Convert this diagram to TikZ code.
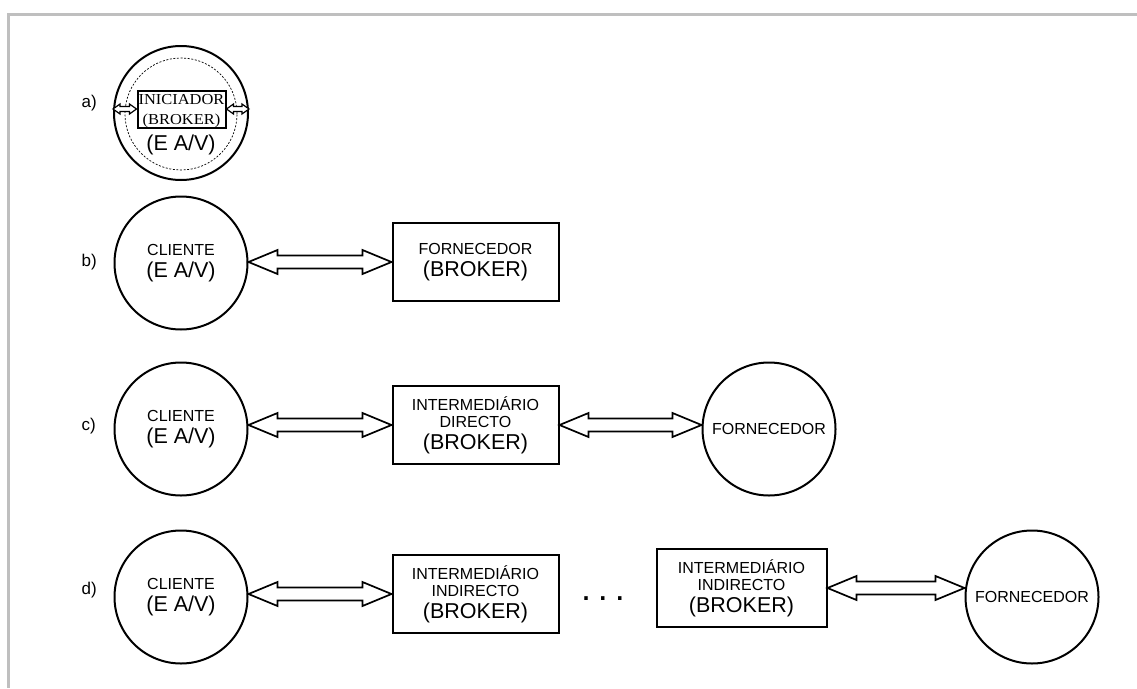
\documentclass[tikz,border=0pt]{standalone}
\usepackage{fontspec}
\setmainfont{Liberation Sans}
\newfontfamily\serifface[FakeStretch=1.08]{Liberation Serif}
\usetikzlibrary{calc}

\newcommand\smallsize{\fontsize{16}{17}\selectfont}
\newcommand\bigsize{\fontsize{21.5}{17}\selectfont}

% Hollow double-headed block arrow running horizontally.
% [#1] extra draw options, #2 left end, #3 right end, #4 node giving the height,
% #5 head length, #6 head half-width, #7 shaft half-width (all in pt)
\newcommand\fatarrow[7][]{%
  \draw[fatline,#1] let \p1=(#2), \p2=(#3), \p3=(#4) in
    (\x1,\y3) -- ++(#5pt,#6pt) -- ++(0,#7pt-#6pt) -- (\x2-#5pt,\y3+#7pt)
    -- ++(0,#6pt-#7pt) -- (\x2,\y3) -- ++(-#5pt,-#6pt) -- ++(0,#6pt-#7pt)
    -- (\x1+#5pt,\y3-#7pt) -- ++(0,#7pt-#6pt) -- cycle;}

\begin{document}
\begin{tikzpicture}[x=1pt,y=-1pt,
  frame/.style={draw=black!25, line width=3pt},
  ring/.style={circle, draw, line width=2pt, minimum size=133pt, inner sep=0pt,
    align=center, font=\smallsize},
  box/.style={rectangle, draw, line width=2pt, inner sep=0pt, align=center,
    font=\smallsize, minimum width=166pt, minimum height=78pt},
  fatline/.style={draw, line width=1.7pt, line join=miter, fill=white},
  rowlabel/.style={anchor=west, inner sep=0pt, font=\fontsize{17}{18}\selectfont}]
\useasboundingbox (0,0) rectangle (1137,688);

% page frame (top and left edges)
\draw[frame] (7,14.5) -- (1137,14.5);
\draw[frame] (8.5,13) -- (8.5,688);

% row labels
\node[rowlabel] (la) at (81.5,103) {a)};
\node[rowlabel] (lb) at (81.5,262) {b)};
\node[rowlabel] (lc) at (81.5,426) {c)};
\node[rowlabel] (ld) at (81.5,590) {d)};

% a) initiator inside the client
\node[circle, draw, line width=2pt, minimum size=134pt, inner sep=0pt] (outer) at (181,113) {};
\node[circle, draw, line width=0.7pt, dash pattern=on 2pt off 1.6pt,
  minimum size=112pt, inner sep=0pt] (inner) at (181,114) {};
\node[rectangle, draw, line width=2pt, inner sep=0pt, align=center,
  minimum width=88pt, minimum height=37pt, text depth=0pt,
  font=\serifface\fontsize{15.2}{20}\selectfont] (init) at (181.5,109) {INICIADOR\\(BROKER)};
\node[font=\bigsize, inner sep=0pt] (eav) at (181,144.5) {(E A/V)};
\fatarrow[line width=1.2pt]{outer.west}{init.west}{init.west}{7}{5}{2.5}
\fatarrow[line width=1.2pt]{init.east}{outer.east}{init.east}{7}{5}{2.5}

% b) client and supplier
\node[ring] (cb) at (181,263) {CLIENTE\\[5pt]{\bigsize (E A/V)}};
\node[box] (fb) at (475.5,262) {FORNECEDOR\\[5pt]{\bigsize (BROKER)}};
\fatarrow{cb.east}{fb.west}{fb.west}{29}{12}{6.5}

% c) direct intermediary
\node[ring] (cc) at (181,429) {CLIENTE\\[5pt]{\bigsize (E A/V)}};
\node[box] (ic) at (475.5,425) {INTERMEDIÁRIO\\DIRECTO\\[5pt]{\bigsize (BROKER)}};
\node[ring] (fc) at (769,429) {FORNECEDOR};
\fatarrow{cc.east}{ic.west}{ic.west}{29}{12}{6.5}
\fatarrow{ic.east}{fc.west}{ic.east}{29}{12}{6.5}

% d) chain of indirect intermediaries
\node[ring] (cd) at (181,597) {CLIENTE\\[5pt]{\bigsize (E A/V)}};
\node[box] (id1) at (475.5,594) {INTERMEDIÁRIO\\INDIRECTO\\[5pt]{\bigsize (BROKER)}};
\node[inner sep=0pt, font=\fontsize{36}{36}\selectfont] (dots) at (603,599) {.\hspace{7pt}.\hspace{7pt}.};
\node[box, minimum width=170pt] (id2) at (741.5,588) {INTERMEDIÁRIO\\INDIRECTO\\[5pt]{\bigsize (BROKER)}};
\node[ring] (fd) at (1032,597) {FORNECEDOR};
\fatarrow{cd.east}{id1.west}{id1.west}{29}{12}{6.5}
\fatarrow{id2.east}{fd.west}{id2.east}{29}{12}{6.5}
\end{tikzpicture}
\end{document}
